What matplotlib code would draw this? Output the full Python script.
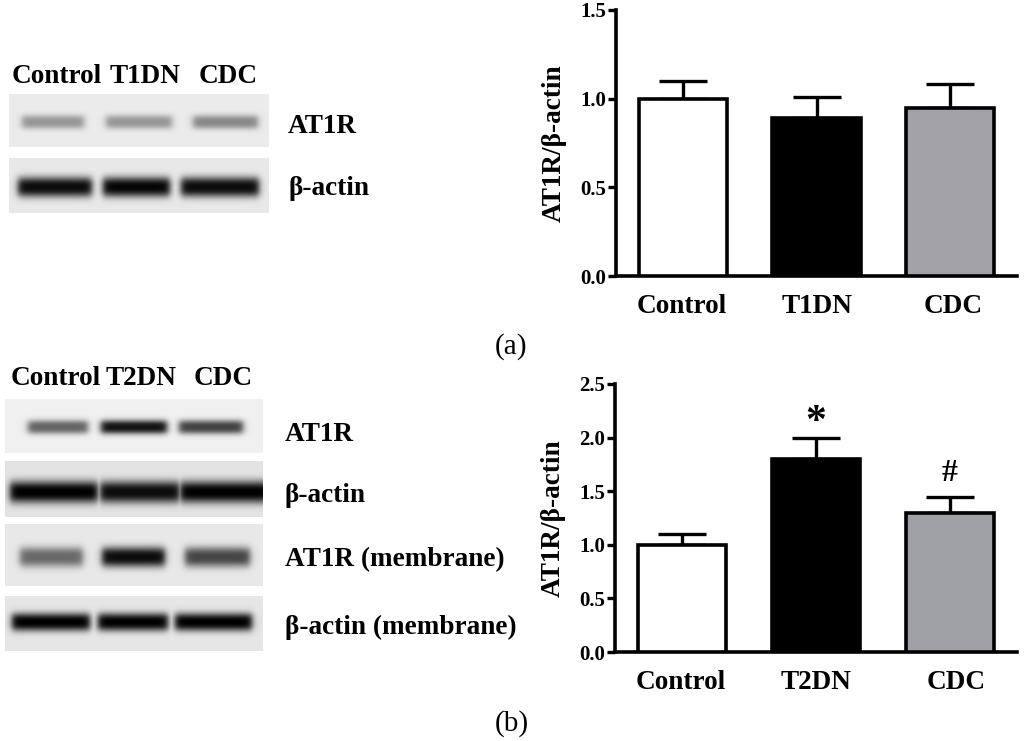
import numpy as np
import matplotlib
matplotlib.use("Agg")
import matplotlib.pyplot as plt

W, H = 1024, 741

# bar chart values
groups_a = ["Control", "T1DN", "CDC"]
means_a = [1.0, 0.89, 0.95]
errs_a = [0.10, 0.12, 0.13]
yticks_a = [0.0, 0.5, 1.0, 1.5]

groups_b = ["Control", "T2DN", "CDC"]
means_b = [1.0, 1.8, 1.3]
errs_b = [0.10, 0.20, 0.15]
yticks_b = [0.0, 0.5, 1.0, 1.5, 2.0, 2.5]

# band darkness per lane
at1r_a = [0.36, 0.36, 0.42]
actin_a = [0.95, 0.98, 0.95]
at1r_b = [0.58, 0.92, 0.72]
actin_b = [1.0, 0.95, 1.0]
at1r_mem_b = [0.55, 0.95, 0.70]
actin_mem_b = [1.0, 1.0, 1.0]

plt.rcParams["font.family"] = ["Liberation Serif", "DejaVu Serif"]
plt.rcParams["font.weight"] = "bold"

fig = plt.figure(figsize=(W / 100, H / 100), dpi=100)

# full-figure axes in pixel coordinates for the blots and their labels
page = fig.add_axes([0, 0, 1, 1])
page.set_axis_off()


def draw_blot(box, lanes, darkness, band_y, half, back=0.90):
    x0, x1, y0, y1 = box
    xx, yy = np.meshgrid(np.arange(x0, x1) + 0.5, np.arange(y0, y1) + 0.5)
    dark = np.zeros(xx.shape)
    for (a, b), d in zip(lanes, darkness):
        across = 0.5 * (np.tanh((xx - a) / 4) - np.tanh((xx - b) / 4))
        along = np.exp(-np.abs((yy - band_y) / half) ** 2.6)
        dark = np.maximum(dark, d * across * along)
    img = back * (1 - dark)
    page.imshow(img, extent=(x0, x1, y1, y0), cmap="gray", vmin=0, vmax=1,
                aspect="auto", interpolation="bilinear", zorder=1)


draw_blot((9, 269, 94, 147), [(22, 84), (106, 172), (193, 258)], at1r_a, 122, 7, back=0.92)
draw_blot((9, 269, 158, 213), [(18, 92), (103, 170), (181, 259)], actin_a, 187, 10, back=0.91)

draw_blot((5, 263, 399, 453), [(28, 88), (101, 167), (179, 243)], at1r_b, 427, 7, back=0.94)
draw_blot((5, 263, 461, 517), [(10, 98), (100, 180), (180, 270)], actin_b, 492, 11, back=0.89)
draw_blot((5, 263, 524, 586), [(20, 83), (102, 165), (185, 250)], at1r_mem_b, 557, 10, back=0.91)
draw_blot((5, 263, 596, 651), [(12, 90), (98, 168), (175, 252)], actin_mem_b, 622, 9, back=0.90)

page.set_xlim(0, W)
page.set_ylim(H, 0)


def label(x, y, s, size=19.6, weight="bold"):
    page.text(x, y, s, fontsize=size, fontweight=weight, va="baseline", ha="left", zorder=3)


label(12, 83, "Control")
label(110, 83, "T1DN")
label(199, 83, "CDC")
label(288, 133, "AT1R")
label(288, 195, "β-actin")

label(11, 385, "Control")
label(106, 385, "T2DN")
label(194, 385, "CDC")
label(285, 441, "AT1R")
label(285, 502, "β-actin")
label(285, 566, "AT1R (membrane)")
label(285, 634, "β-actin (membrane)")

label(495, 354, "(a)", size=21, weight="normal")
label(495, 731, "(b)", size=21, weight="normal")


def bar_panel(left, top, right, bottom, groups, means, errs, yticks, ymax, fill, shift):
    ax = fig.add_axes([left / W, 1 - bottom / H, (right - left) / W, (bottom - top) / H])
    ax.patch.set_alpha(0)
    xs = np.arange(len(groups))
    colors = ["white", "black", fill]
    ax.errorbar(xs, means, yerr=[[0] * len(errs), errs], fmt="none", ecolor="black",
                elinewidth=2.4, capsize=17, capthick=2.4, zorder=2)
    ax.bar(xs, means, width=0.66, color=colors, edgecolor="black", linewidth=2.6, zorder=3)
    ax.set_xlim(-0.5, 2.5)
    ax.set_ylim(0, ymax)
    ax.set_xticks(xs + np.array(shift))
    ax.set_xticklabels(groups, fontsize=19.6, fontweight="bold")
    ax.set_yticks(yticks)
    ax.set_yticklabels([f"{t:.1f}" for t in yticks], fontsize=15, fontweight="bold")
    ax.tick_params(axis="x", length=0, pad=13)
    ax.tick_params(axis="y", length=6, width=2.4, pad=1)
    ax.spines["top"].set_visible(False)
    ax.spines["right"].set_visible(False)
    ax.spines["left"].set_linewidth(2.6)
    ax.spines["bottom"].set_linewidth(2.6)
    ax.set_ylabel("AT1R/β-actin", fontsize=19.6, fontweight="bold", labelpad=9.5)
    return ax


bar_panel(616, 10, 1017, 276, groups_a, means_a, errs_a, yticks_a, 1.5, "#a3a2a6", [-0.01, 0.005, 0.02])
ax_b = bar_panel(615, 384, 1017, 652, groups_b, means_b, errs_b, yticks_b, 2.5, "#a0a1a4", [-0.01, 0.0, 0.045])

# significance marks above the T2DN and CDC bars
ax_b.text(1, means_b[1] + errs_b[1] - 0.04, "*", fontsize=30, ha="center", va="bottom")
ax_b.text(2, means_b[2] + errs_b[2] + 0.08, "#", fontsize=23, ha="center", va="bottom")

fig.savefig("out.png", dpi=100)
plt.close(fig)
